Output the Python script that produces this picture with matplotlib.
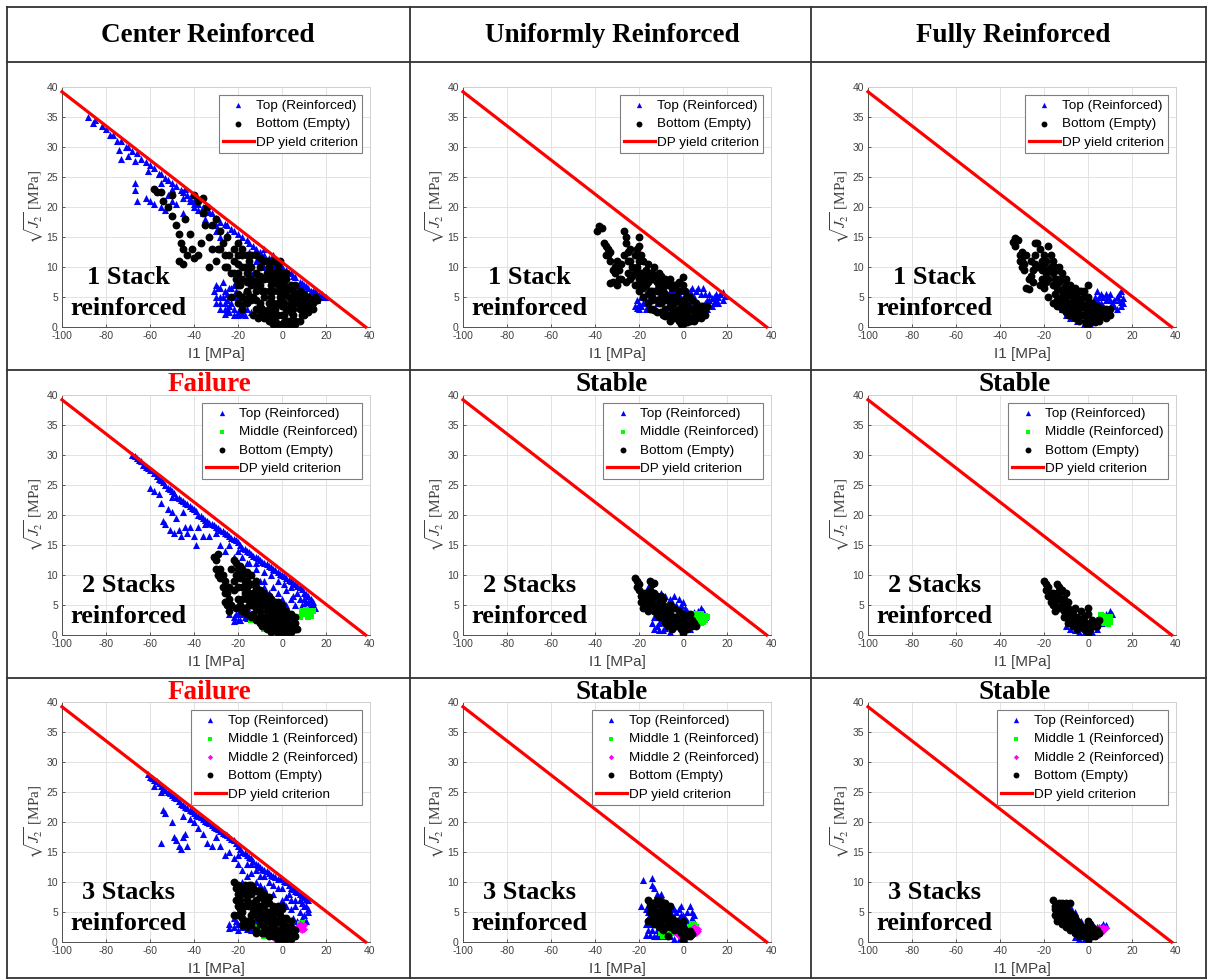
import matplotlib
matplotlib.use("Agg")
import matplotlib.pyplot as plt
from matplotlib.lines import Line2D

plt.rcParams['mathtext.fontset'] = 'stix'
plt.rcParams['axes.unicode_minus'] = False

W, H = 1208, 980

# ---------------- DATA ----------------
columns = ["Center Reinforced", "Uniformly Reinforced", "Fully Reinforced"]
row_notes = ["1 Stack\nreinforced", "2 Stacks\nreinforced", "3 Stacks\nreinforced"]
row_status = [[None, None, None],
              ["Failure", "Stable", "Stable"],
              ["Failure", "Stable", "Stable"]]

dp_x = [-100, 38]
dp_y = [39.2, 0]

x_ticks = [-100, -80, -60, -40, -20, 0, 20, 40]
y_ticks = [0, 5, 10, 15, 20, 25, 30, 35, 40]

# Row 1, Center
top_c1 = [(-88,35),(-85,34.5),(-80,33),(-77,32),(-73,31),(-70,30),(-66,29),(-62,27.5),(-58,26.5),(-55,25.5),
          (-52,24.5),(-48,23.5),(-45,22.5),(-42,21.5),(-38,20.5),(-35,19.5),(-32,19),(-28,17.5),(-25,17),(-22,16),
          (-18,15),(-15,14),(-12,13),(-8,12),(-5,11),(-2,10.5),(2,9.5),(5,8.5),(8,7.5),(12,6.5),(15,6),(18,5.5),(20,5),
          (-74,29.5),(-73,28),(-70,28.5),(-68,29.3),(-67,27.7),(-67,24),(-67,22.8),(-66,21),(-62,21.5),(-61,26),(-60,21),
          (-58,20.5),(-56,25.5),(-55,20),(-53,19.5),(-52,22),(-50,21),(-48,20.5),(-45,19),(-44,23),(-42,21),(-40,20),
          (-38,19.5),(-35,18),(-32,17),(-30,16),(-28,15),
          (-30,7),(-28,6.5),(-26,6),(-25,3),(-24,2.5),(-22,7),(-22,3),(-20,2.5),(-20,5),(-18,8),(-16,3),(-15,6),(-14,9),
          (-12,11),(-10,7),(-10,4),(-8,13),(-6,9),(-4,12),(-2,8),(0,10),(2,7),(4,9),(6,6),(8,7),(10,5),(12,4),(14,5),
          (16,5.5),(18,5),(-25,4.5),(-28,3),(-24,6.5),(-26,2.2),(-23,4),(-18,2.2),(-16,5),(-14,2.5),(10,7),(13,6),(16,4.5),
          (-86,34),(-82,33.5),(-78,32),(-75,31),(-71,30),(-64,28),(-60,27),(-56,25.5),(-53,24.8),(-50,24),(-46,22.8),
          (-43,22),(-40,21),(-36,20),(-33,19.2),(-30,18.2),(-26,17.2),(-23,16.3),(-20,15.5),(-16,14.5),(-13,13.5),
          (-10,12.5),(-6,11.5),(-3,10.7),(0,10),(3,9),(6,8.3),(9,7.3),(11,6.8),(14,6),(17,5.3),(-55,24),(-50,23),
          (-45,21.5),(-40,20.5),(-36,19),(-30,17),(-25,15.5),(-20,14),(-15,12.5),(-10,11),(-5,9.5),(0,8),(5,7),(10,6),
          (15,4.5),(-20,12),(-15,10),(-12,8),(-8,10),(-4,10),(4,5),(8,4),(12,3),(-30,4),(-28,5),(-26,4),(-22,5),
          (-27,7.5),(-19,4),
          (-31,6),(-29,6.5),(-27,5),(-25,5.5),(-24,3.5),(-22,2),(-20,2),(-18,2.8),(-17,6),(-21,6),(-23,6.5),(-26,3),
          (-28,4),(-30,5),(-25,2.5),(-19,3),(-17,2)]
bot_c1 = [(-58,23),(-57,22.5),(-55,22.5),(-52,20),(-50,18.5),(-48,17),(-47,15.5),(-46,14),(-45,13),(-47,11),(-45,10.5),
          (-42,15.5),(-41,13),(-40,11.5),(-38,12),(-40,22),(-38,21),(-36,19),(-35,17),(-33,15),(-32,13),(-30,11),
          (-30,18),(-28,16),(-27,14),(-26,12),(-25,10),(-25,15),(-22,13),(-22,11),(-20,9),(-20,14),(-18,12),(-17,10),
          (-15,8),(-15,11),(-12,9),(-12,6),(-10,7),(-10,4),(-8,8),(-8,5),(-6,6),(-6,3),(-5,2),(-4,4),(-3,1),(-2,2),
          (0,0.5),(0,2),(0,5),(0,8),(2,3),(3,1),(4,4),(5,2),(6,5),(8,3),(10,4),(12,5),(-2,6),(-4,9),(-1,11),(-5,7),
          (-15,5),(-20,4),(-18,3),(-10,2),(-8,1.5),(2,6),(-2,10),(-14,10),(-10,10),(-7,11),(-3,8),(1,4),(-12,3),(-6,1),
          (-28,13),(-26,10),(-24,12),(-23,9),(-21,8),(-19,7),(-18,10),(-16,9),(-14,7),(-13,5),(-11,8),(-9,6),(-7,9),
          (-6,4),(-4,6),(-3,3),(-1,5),(1,2),(1,7),(3,5),(5,3),(7,4),(9,2),(11,3),(13,4),(-9,3),(-7,2),(-5,5),(-2,4),
          (0,3.5),(2,1),(4,2.5),(-16,6),(-20,7),(-23,5),(-17,4),(-13,2),(-11,1.5),(-3,0.5),(6,1),(-32,17),(-34,20),
          (-36,21.5),(-44,18),(-50,22),(-54,21),(-43,12),(-37,14),(-33,10),(-29,13),
          (-20,12),(-18,13),(-16,12),(-14,12),(-12,12),(-10,11.5),(-8,11),(-6,10),(-4,11),(-2,9),(0,9),(2,9),(4,7),
          (6,7),(8,6),(10,5.5),(12,4),(14,4),(16,4.5),(14,3),(12,2.5),(10,2),(8,1),(6,0.5),(4,0.5),(2,0.3),(-1,0.2),
          (-2,0.5),(-4,0.5),(-6,2.5),(-8,2.5),(-10,3.5),(-12,4.5),(-14,4.5),(-16,4),(-18,5),(-20,5.5),(-22,9),(-18,8),
          (-14,8),(-10,8.5),(-6,8),(-2,7),(2,8),(5,6),(8,5),(11,4.5),(15,5),(-8,6),(-4,7.5),(0,6.5),(3,6.5),(7,5.5),
          (-12,7),(-16,7.5),(-20,10.5),(-1,8),(1,5.5),(4,3.5),(9,3.5),(12,3.5),(-5,1),(-3,2),(1,0.8)]

# Row 1, Uniform
top_u1 = [(-22,3.5),(-21,4.5),(-20,3),(-19,5),(-18,4),(-16,3.5),(-15,5),(-14,6),(-12,7),(-10,6.5),(-8,6),(-6,5),(-4,6),
          (-2,5.5),(0,6),(2,5),(4,6.5),(5,5),(6,6),(8,5.5),(9,6.5),(10,4),(12,4.5),(13,3.5),(14,4),(15,4.5),(16,5),
          (17,5.5),(18,5.8),(19,5.2),(11,3),(7,3),(3,4),(-3,3),(-8,3),(-12,4),(-17,3),(-20,3.8),
          (-21,3.2),(-19,3.5),(-17,4.5),(-13,5),(-10,5),(-6,6),(-2,4.5),(1,5.5),(3,6),(7,6.5),(10,5.5),(12,5.5),
          (14,5),(16,4),(18,4.5),(11,4.5),(13,4.8),(15,5.5)]
bot_u1 = [(-39,16),(-38,16.8),(-37,16.5),(-35,13.5),(-34,13),(-34,12),(-33,11),(-32,9.5),(-31,9),(-32,7.5),(-30,7),
          (-30,11),(-28,10.5),(-27,16),(-26,15),(-26,14),(-25,12.5),(-24,13),(-25,9),(-23,10),(-22,12),(-20,15),
          (-20,13.5),(-19,12),(-18,11),(-17,9.5),(-16,10.5),(-15,9),(-14,8),(-13,10),(-12,8.5),(-11,9),(-10,7.5),
          (-9,6),(-8,8),(-7,7),(-6,5),(-5,6.5),(-4,4),(-3,5),(-2,3),(-1,2),(0,0.5),(0,1.5),(0,3),(0,8.3),(1,4),(2,2),
          (3,3),(4,1.5),(5,2.5),(6,3),(7,2),(8,1.5),(9,2.5),(10,3),(11,3.5),(-28,8),(-26,7.5),(-22,7),(-20,6),(-18,5),
          (-16,4),(-14,3),(-12,2.5),(-10,4),(-8,3),(-6,2),(-4,1.5),(-2,1),(2,0.8),(-15,6),(-12,6),(-10,5),(-3,7),
          (-2,6),(1,6),(-7,4.5),(-5,3),(3,5),(-24,11),(-21,10),(-19,9),(-17,7),(-29,9.5),(-33,7.3),(-15,3),(-13,2.8),
          (-36,14),(-35,12),(-33,12.5),(-31,10),(-29,8),(-27,12),(-24,8),(-21,13),(-20,11),(-18,9),(-16,7.5),(-14,6),
          (-13,8),(-11,7),(-9,8),(-8,4.5),(-6,7),(-5,4),(-3,2),(-1,4),(1,2.5),(4,3),(6,1.5),(8,2.5),(-11,4),(-9,2),
          (-14,4.5),(-19,7),(-23,8.5),(-25,11),
          (-20,9),(-18,8),(-16,8.5),(-14,9),(-12,7.5),(-10,8.5),(-8,7),(-6,8),(-4,7),(-2,7.5),(0,7),(2,5),(4,4.5),
          (6,4),(8,3.5),(10,2),(-4,5),(-2,4.5),(0,4.5),(2,3.5),(-6,3.5),(-8,5.5),(-10,6),(-12,4.5),(-14,5),(-16,5.5),
          (-18,6.5),(-20,8),(-22,9),(-10,2.5),(-8,1.8),(-6,1),(-4,2.5),(-1,0.5),(1,1.2),(3,1),(5,1),(7,3),(9,3.5)]

# Row 1, Fully
top_f1 = [(-12,3),(-10,2),(-8,1.5),(-5,1),(-2,0.5),(1,0.5),(3,5),(4,6),(5,5),(6,5.5),(7,5),(8,4.5),(9,5),(10,4.5),
          (11,4),(12,4.5),(13,5),(14,5.5),(15,6),(16,4),(15,3.5),(13,3),(11,3.5),(9,3),(7,3.5),(2,4),(-1,2),(-6,2.5),
          (-9,3.5),(-11,4),(-13,5),(-15,4),(4,4.5),(6,4),(8,5.5),(10,5.5),(12,3.5),(14,4.5),(15,4.2),(16,4.8),(5,3.5),(3,3)]
bot_f1 = [(-34,14.2),(-33,14.8),(-32,14.5),(-31,12),(-30,11),(-30,10),(-29,9.5),(-28,6.5),(-27,6.3),(-26,8.5),
          (-25,9.5),(-24,14),(-23,14),(-22,13),(-21,11),(-20,10.5),(-19,9),(-18,13.5),(-17,12),(-17,10),(-16,9),
          (-15,8),(-14,9.5),(-13,7.5),(-12,8),(-11,6.5),(-10,7),(-9,5.5),(-8,6),(-7,5),(-6,4),(-5,5),(-4,3),(-3,4),
          (-2,2),(-1,3),(0,0.5),(0,1.5),(0,7),(0,5),(1,2),(2,3),(3,1.5),(4,2.5),(5,2),(6,3),(7,2),(8,1.5),(9,2.5),
          (10,3),(-20,6.5),(-18,5),(-16,4),(-14,3.5),(-12,3),(-10,2.5),(-8,2),(-6,1.5),(-4,1),(-25,7.5),(-22,7),
          (-15,5.5),(-12,5),(-9,3.5),(-7,3),(-3,6),(-2,5),(1,4),(-21,8),(-19,7.5),(-13,10),
          (-33,13.5),(-31,11),(-29,10.5),(-27,8),(-24,12),(-23,10),(-21,9.5),(-19,11),(-18,8),(-16,7),(-14,6.5),
          (-12,6),(-10,5),(-8,4),(-6,5.5),(-5,2.5),(-3,2),(-1,1),(1,3),(3,2.5),(5,1),(7,3),(8,2.5),(-11,4),(-9,2),
          (-15,10),(-16,11),(-20,12),
          (-18,9.5),(-16,10),(-14,8),(-12,9),(-10,8),(-8,7),(-6,6.5),(-4,6),(-2,6),(-4,4.5),(-2,3.5),(0,4),(2,4),
          (4,3.5),(6,2),(8,3),(10,2),(-6,2.5),(-8,3),(-10,4),(-12,4),(-14,4.5),(-1,0.5),(1,0.8),(3,0.8),(-20,8),
          (-22,10),(-24,10.5),(-26,11),(-28,12),(-30,12.5)]

# Row 2, Center
top_c2 = [(-68,30),(-66,29.5),(-64,29),(-62,28),(-60,27.5),(-58,27),(-56,26),(-54,25.5),(-52,24.5),(-50,24),(-48,23),
          (-46,22.5),(-44,22),(-42,21.5),(-40,21),(-38,20),(-36,19.5),(-34,19),(-32,18.5),(-30,18),(-28,17.5),(-26,17),
          (-24,16.5),(-22,16),(-20,15.5),(-18,14.5),(-16,14),(-14,13.5),(-12,13),(-10,12.5),(-8,12),(-6,11.5),(-4,11),
          (-2,10.5),(0,10),(2,9.5),(4,9),(6,8.5),(8,8),(10,7),(12,6.5),(14,5.5),(15,4.5),
          (-60,24.5),(-58,24),(-56,23.5),(-55,22),(-54,19),(-53,18.5),(-52,21),(-51,17.5),(-50,23),(-50,20.5),(-49,17),
          (-48,19.5),(-47,17.5),(-46,16.5),(-45,20.5),(-44,18),(-43,17),(-42,18),(-40,16.5),(-39,15),(-38,18),(-36,16.5),
          (-35,18.5),(-33,16.5),(-30,17),(-28,15),(-26,14),(-24,15),(-22,13),(-20,12),(-18,11),(-16,12),(-14,10),
          (-12,11),(-10,9),(-8,8),(-6,7),(-4,8),(-2,7),(0,6),(2,7.5),(4,6),(6,5),(8,6),(10,5),(12,4.5),(14,4.8),
          (-22,3),(-20,2.5),(-18,3.5),(-16,2.8),(-14,3),(-22,2.3),(-20,3.5),(-12,4),(-10,5),(-6,3),(-24,3.5),
          (-67,29.8),(-65,29.2),(-63,28.3),(-61,27.8),(-57,26.5),(-55,25.8),(-53,25),(-51,24.3),(-49,23.6),(-47,22.8),
          (-45,22.3),(-43,21.8),(-41,21.2),(-39,20.6),(-37,19.8),(-35,19.2),(-33,18.7),(-31,18.3),(-29,17.8),(-27,17.3),
          (-25,16.8),(-23,16.2),(-21,15.8),(-19,15),(-17,14.3),(-15,13.8),(-13,13.2),(-11,12.8),(-9,12.2),(-7,11.8),
          (-5,11.3),(-3,10.8),(-1,10.2),(1,9.8),(3,9.2),(5,8.7),(7,8.2),(9,7.6),(11,6.8),(13,6),(-20,14),(-18,13),
          (-15,12),(-12,12),(-8,10.5),(-5,10),(-2,9),(1,8.5),(4,8),(7,7),(10,6),(12,5.5),(-10,7),(-8,9),(-4,6),(2,5),
          (5,6.5),(9,5),(11,5.5),(13,5),(-15,4),(-12,4),(-21,3.5),(-19,2.5),(-17,3)]
mid_c2 = [(-15,3.5),(-14,2.5),(-12,3),(-10,2),(-8,1),(-5,1.5),(0,0.5),(3,1),(6,2),(8,3),(10,3.5),(12,3),(13,4),(14,4),
          (11,4.2),(9,4),(12,3.8),(13,3.2)]
bot_c2 = [(-31,13),(-30,12.5),(-29,13.5),(-28,11),(-28,9.5),(-27,8),(-26,7),(-26,5.5),(-25,5),(-24,4),(-22,12.5),
          (-21,12),(-20,10),(-19,9.5),(-19,11.5),(-18,8),(-17,7),(-16,6),(-16,9),(-15,10),(-14,8.5),(-13,7),(-12,6),
          (-11,5),(-10,4),(-9,6),(-8,5),(-7,4),(-6,5),(-5,3),(-4,2),(-3,3),(-2,1),(-1,2),(0,0.3),(0,3),(0,4.5),(1,1),
          (2,2),(3,3),(4,1.5),(5,2.5),(6,2),(7,1),(-14,3),(-12,2.5),(-10,3),(-8,2),(-6,1.5),(-4,1),(-2,3.5),(-5,6),
          (-18,4),(-16,3.5),(-20,6),(-22,7.5),(-24,6),(-12,9),(-8,7),(-3,5.5),(-1,4),
          (-30,11),(-29,10),(-27,10),(-26,9),(-25,7),(-23,11),(-21,10),(-20,8),(-18,10),(-17,9),(-16,8),(-15,7),
          (-14,6),(-13,5),(-12,8),(-11,7),(-10,6),(-9,5),(-8,3),(-7,6),(-6,3.5),(-5,4.5),(-4,3),(-3,2),(-2,4.5),
          (-1,3),(1,2.5),(2,3.5),(3,1.5),(4,2.5),(5,1),(6,3),(-18,6),(-14,5),(-12,4.5),(-10,2),(-9,3),(-7,2.5),
          (-5,2),(-3,1),(0,1.5),(2,1),
          (-24,8),(-22,9),(-20,11),(-18,11),(-16,10.5),(-14,10),(-12,7.5),(-10,7.5),(-8,6),(-6,6.5),(-4,5),(-2,5.5),
          (0,5),(2,4),(4,3.5),(-23,5),(-21,4.5),(-19,5),(-17,4.5),(-15,5),(-13,3.5),(-11,2.5),(-9,1.5),(-7,1),(-5,0.5),
          (-2,0.3),(2,0.3),(4,0.5),(6,1),(-3,4),(-1,1)]

# Row 2, Uniform
top_u2 = [(-14,2),(-13,1),(-12,1.5),(-11,0.8),(-10,2.5),(-8,1.2),(-6,0.5),(-12,3),(-10,7),(-8,6.5),(-6,6),(-4,6.5),
          (-2,6),(0,5.5),(2,4),(4,3.5),(6,3),(8,4.5),(9,4),(10,3),(-14,7),(-16,8),(-13,5.5),(-9,4.5),(-3,5),(1,4.5),(3,1),
          (-15,5),(-13,3),(-11,2),(-9,0.8),(-7,5),(-5,5.5),(-1,5),(2,3),(5,3.8),(7,4),(9,3.5),(8,2.6)]
mid_u2 = [(-8,2.5),(-7,2),(-6,2.8),(-4,2),(3,2.5),(5,3),(6,2.8),(7,3),(8,3.5),(9,3),(10,3.2),(11,3),(10,2.5),(8,2),
          (9,2.2),(4,3.3),(6,3.5)]
bot_u2 = [(-22,9.5),(-21,9),(-21,8),(-20,7.5),(-19,6.5),(-19,5.5),(-18,4.5),(-17,5),(-16,6),(-15,9),(-14,8.5),
          (-13,8.7),(-13,7),(-12,6.5),(-12,5),(-11,6),(-10,5),(-10,4),(-9,3.5),(-8,4.5),(-8,3),(-7,2.5),(-6,3.5),(-5,2),
          (-4,3),(-3,1.5),(-2,2.5),(-1,1),(0,0.3),(0,2),(0,3.5),(1,1),(2,2),(3,1.5),(4,2.5),(5,2),(6,1.5),(-15,6),
          (-14,5),(-16,4),(-17,7),(-9,6),(-6,5),(-4,4.5),(-2,4),(1,3),(3,3.5),(-11,3),(-7,1.5),(-5,1),
          (-20,8.5),(-18,7),(-17,6),(-16,5),(-15,7.5),(-14,7),(-13,4),(-12,3.5),(-11,4.5),(-10,3),(-9,5),(-8,2),(-7,4),
          (-6,2),(-5,3),(-4,2),(-3,3),(-2,1.5),(-1,2.5),(1,2),(2,1),(3,2.5),(4,1.5),(-14,6),(-10,6.5),(-12,4)]

# Row 2, Fully
top_f2 = [(-10,1.5),(-8,1),(-6,0.8),(-4,0.5),(-2,0.3),(6,3),(8,3.5),(10,4),(11,3.5),(9,2.5),(7,2),(2,0.5),(4,1)]
mid_f2 = [(5,2.5),(6,2),(7,2.5),(8,2),(9,1.8),(10,2.2),(8,3),(9,3),(10,3),(7,3.2),(6,3.3),(-6,1.5),(-4,1.2)]
bot_f2 = [(-20,9),(-19,8.5),(-19,7.5),(-18,6.5),(-17,5.5),(-16,5),(-15,6),(-14,8.5),(-13,8),(-12,7.5),(-12,6),(-11,5),
          (-10,5.5),(-10,4),(-9,3.5),(-8,4),(-8,2.5),(-7,3),(-6,2),(-5,3),(-4,1.5),(-3,2.5),(-2,1),(-1,2),(0,0.3),
          (0,1.5),(0,3.5),(0,4.5),(1,1),(2,2),(3,1.5),(4,2),(5,2.5),(-16,7),(-14,6),(-13,4.5),(-15,4),(-11,3),(-9,2),
          (-7,1.5),(-5,1),(-3,4),(-2,3),(-6,4.5),(-10,7),
          (-18,8),(-17,7),(-16,6),(-15,5),(-14,7),(-13,6),(-12,5),(-11,4),(-10,3),(-9,4.5),(-8,3.5),(-7,2),(-6,3),
          (-5,2),(-4,2.5),(-3,1.5),(-2,2),(-1,1),(1,1.5),(2,2.5),(3,2),(4,1.5),(-13,7),(-11,6),(-9,5.5),(-7,4)]

# Row 3, Center
top_c3 = [(-61,28),(-60,27.5),(-58,27),(-56,26.5),(-54,25.5),(-52,25),(-50,24.5),(-48,24),(-46,23),(-44,22.5),(-42,22),
          (-40,21.5),(-38,21),(-36,20.5),(-34,20),(-32,19.5),(-30,19),(-28,18.5),(-26,18),(-24,17.5),(-22,17),(-20,16),
          (-18,15),(-16,14.5),(-14,14),(-12,13),(-10,12.5),(-8,12),(-6,11.5),(-4,11),(-2,10.5),(0,10.5),(2,10),(4,9),
          (6,8.5),(8,8),(10,7.5),(12,7),
          (-58,26),(-55,25),(-54,22),(-53,21.5),(-55,16.5),(-50,20),(-49,17.5),(-48,17),(-47,16),(-46,15.5),(-45,17.5),
          (-45,21),(-44,18),(-43,16),(-42,20.5),(-40,20),(-38,19),(-36,18),(-34,16.5),(-32,16),(-30,17.5),(-28,16),
          (-26,14.5),(-24,15),(-22,14),(-20,13),(-18,12),(-16,11),(-14,13),(-12,10),(-10,11),(-8,9),(-6,10),(-4,8),
          (-2,9),(0,7),(2,6),(4,5.5),(6,7),(8,5),(10,6),(12,5),(-24,3),(-22,2.5),(-22,4),(-20,3),(-18,2.5),(-16,3),
          (-14,2),(-12,3.5),(-10,4.5),(-24,2.3),(5,4),(7,3.5),(9,4),
          (-59,27.3),(-57,26.8),(-55,26),(-53,25.3),(-51,24.8),(-49,24.2),(-47,23.5),(-45,22.8),(-43,22.3),(-41,21.8),
          (-39,21.2),(-37,20.8),(-35,20.2),(-33,19.8),(-31,19.2),(-29,18.8),(-27,18.2),(-25,17.8),(-23,17.2),(-21,16.5),
          (-19,15.5),(-17,14.8),(-15,14.2),(-13,13.5),(-11,12.8),(-9,12.2),(-7,11.8),(-5,11.2),(-3,10.8),(-1,10.5),
          (1,10.2),(3,9.5),(5,8.8),(7,8.3),(9,7.8),(11,7.2),(-20,14.5),(-16,13),(-12,12),(-8,11),(-4,9.5),(0,9),(3,8),
          (6,6),(9,6.5),(11,6),(12,5.5),(-18,10),(-14,11.5),(-10,9.5),(2,7.5),(4,7),(8,7),(10,4.5),(11,3.5),(-20,2),
          (-18,3.5),(-16,2.2),(-14,3),(-21,3.5)]
mid1_c3 = [(-12,2.5),(-11,1.5),(-10,2),(-8,1),(-5,1),(0,0.5),(4,1),(6,2),(8,3),(9,3.2)]
mid2_c3 = [(7,2.5),(8,3),(9,2.5),(10,2.8),(9,2),(8,2.2),(10,2.2),(-6,1),(-3,0.5)]
bot_c3 = [(-22,10),(-21,9),(-20,8),(-20,6),(-19,5.5),(-18,9),(-17,8),(-16,7),(-15,9.5),(-14,8),(-13,9),(-12,7),(-11,6),
          (-10,5),(-10,7.5),(-9,6),(-8,4.5),(-7,5),(-6,3.5),(-5,4),(-4,2.5),(-3,3),(-2,1.5),(-1,2),(0,0.3),(0,1.5),
          (0,3),(0,4),(1,1),(2,2),(3,1.5),(4,2.5),(5,1.5),(-22,4.5),(-18,4),(-16,3.5),(-14,3.5),(-12,4.5),(-10,3),
          (-8,2.5),(-6,2),(-4,1),(-15,6),(-11,8.5),(-7,7),(-3,5),(-1,4.5),
          (-21,7),(-19,7),(-18,6),(-17,6),(-16,9),(-14,6),(-13,6.5),(-12,5.5),(-11,4),(-10,6),(-9,4),(-8,7),(-8,6),
          (-7,3.5),(-6,5),(-5,2.5),(-4,4),(-3,2),(-2,3.5),(-1,1),(1,3),(2,1),(3,2.5),(4,1),(-20,9.5),(-17,9.5),(-13,5),
          (-9,8),(-6,6.5),(-2,5),(0,5.5),(-12,1.5),(-9,1.5),(-15,3.5),
          (-20,4.5),(-18,2.8),(-16,2.5),(-14,2.8),(-12,2),(-8,1.5),(-6,1),(-2,0.3),(2,0.5),(4,0.5),(6,1),(6,2),(-19,8),
          (-16,8),(-14,9.5),(-12,8.5),(-10,8.5),(-8,8),(-6,7.5),(-4,6),(-2,6),(0,6),(2,4),(4,3.5),(-18,5),(-14,4.5),
          (-10,4),(-6,4.5),(-4,5.5)]

# Row 3, Uniform
top_u3 = [(-18,10.3),(-14,10.7),(-14,9.5),(-13,9),(-12,8),(-11,7.5),(-10,8),(-9,7),(-8,6.5),(-7,6),(-6,5.5),(-5,6),
          (-4,5.5),(-3,5),(-2,5.5),(-1,6),(0,4.5),(1,4),(2,3.5),(3,6),(4,5),(5,4.5),(-19,6),(-17,5.5),(-16,4),(-15,3),
          (-14,2),(-13,1),(-12,2),(-11,1),(-10,2.5),(-9,1.5),(-8,1),(-16,2),(-15,1.2),(-6,1),(-4,0.5),(-2,0.3),(1,0.3),
          (-16,5),(-15,4.5),(-13,4),(-12,4.5),(-11,3),(-10,5),(-9,3),(-7,4.5),(-5,4.5),(-4,4),(-2,4),(-1,4.5),(1,3),
          (2,5),(4,4),(-17,3),(-14,3),(-12,1),(-17,1.2)]
mid1_u3 = [(-10,1.5),(-9,1),(-8,2),(-7,1.5),(-6,2),(-4,1.5),(2,2),(3,2.5),(4,3),(5,2.8),(6,2.5),(4,1.5),(5,2)]
mid2_u3 = [(3,2),(4,2.2),(5,2.5),(6,2),(7,2.2),(6,1.5),(7,1.8),(-3,1.5),(-2,1)]
bot_u3 = [(-16,7),(-15,6.5),(-15,5),(-14,4),(-13,6),(-12,6.5),(-11,5),(-10,6),(-9,4),(-8,5),(-7,3.5),(-6,4),(-5,3),
          (-4,3.5),(-3,2.5),(-2,3),(-1,1.5),(0,0.3),(0,1),(0,2.5),(0,3.5),(1,1),(2,1.5),(3,1),(4,1.3),(-12,3),(-10,3.5),
          (-8,2.5),(-6,2.5),(-4,2),(-2,2),(-16,3.5),(-11,7),(-8,6.5),(-6,6),(-9,2),(-7,1),
          (-15,6),(-14,5.5),(-13,5),(-12,5),(-11,4),(-10,4.5),(-9,5.5),(-8,4),(-7,5),(-6,3),(-5,4),(-4,2.5),(-3,3.5),
          (-2,2.5),(-1,2.5),(1,2),(2,1),(3,1.8),(-13,3),(-11,2.5),(-14,6.5),(-12,7)]

# Row 3, Fully
top_f3 = [(-10,6.5),(-8,6),(-6,5),(-5,4),(-3,3.5),(-1,3),(0,2),(2,3),(4,2.5),(6,2.5),(7,3),(8,2.8),(-6,0.8),(-4,0.5),(-2,0.3)]
mid1_f3 = [(-6,1.5),(-4,1.2),(3,2),(4,1.5),(5,2),(6,2.2),(-2,1)]
mid2_f3 = [(4,2),(5,2.5),(6,2),(7,2.5),(8,2.3),(7,1.8),(6,1.5),(5,1.2)]
bot_f3 = [(-16,7),(-15,6),(-15,4.5),(-14,4),(-13,5.5),(-12,6.5),(-11,6),(-10,5.5),(-10,4),(-9,5),(-8,6.5),(-8,3.5),
          (-7,4.5),(-6,3),(-5,3.5),(-4,2),(-3,2.5),(-2,1.5),(-1,2),(0,0.3),(0,1),(0,2.5),(0,3.5),(1,1),(2,1.5),(3,1),
          (4,2),(5,1.5),(-14,3.5),(-12,3),(-10,2.5),(-8,2),(-6,1.5),(-4,1),(-13,4),(-9,3),(-7,2.5),(-5,2),(-3,1),(1,3),(2,2.5),
          (-15,5.5),(-14,5),(-13,6.5),(-12,5),(-11,4.5),(-10,6.5),(-9,4),(-8,5),(-7,3.5),(-6,4),(-5,2.5),(-4,3),(-3,2),
          (-2,2.5),(-1,1),(1,2),(2,1),(3,2),(-12,4),(-11,3),(-10,3.5)]

series_labels = {
    1: ["Top (Reinforced)", "Bottom (Empty)"],
    2: ["Top (Reinforced)", "Middle (Reinforced)", "Bottom (Empty)"],
    3: ["Top (Reinforced)", "Middle 1 (Reinforced)", "Middle 2 (Reinforced)", "Bottom (Empty)"],
}
panel_data = [
    [[top_c1, bot_c1], [top_u1, bot_u1], [top_f1, bot_f1]],
    [[top_c2, mid_c2, bot_c2], [top_u2, mid_u2, bot_u2], [top_f2, mid_f2, bot_f2]],
    [[top_c3, mid1_c3, mid2_c3, bot_c3], [top_u3, mid1_u3, mid2_u3, bot_u3], [top_f3, mid1_f3, mid2_f3, bot_f3]],
]

# ---------------- STYLES ----------------
style_top = dict(marker='^', color='#0000ff', s=26)
style_mid = dict(marker='s', color='#00ff00', s=13)
style_mid2 = dict(marker='D', color='#ff00ff', s=13)
style_bot = dict(marker='o', color='#000000', s=32)
styles = {1: [style_top, style_bot],
          2: [style_top, style_mid, style_bot],
          3: [style_top, style_mid, style_mid2, style_bot]}

fig = plt.figure(figsize=(W / 100, H / 100), dpi=100)

def fx(x):
    return x / W

def fy(y):
    return 1 - y / H

# table grid
line_kw = dict(color='#333333', lw=1.3, transform=fig.transFigure)
left_e, right_e, top_e, bot_e = 7, 1206, 7, 978
for yy in [top_e, 62, 370, 678, bot_e]:
    fig.add_artist(Line2D([fx(left_e), fx(right_e)], [fy(yy), fy(yy)], **line_kw))
for xx in [left_e, 410, 811, right_e]:
    fig.add_artist(Line2D([fx(xx), fx(xx)], [fy(top_e), fy(bot_e)], **line_kw))

header_x = [208, 612, 1013]
for c, name in enumerate(columns):
    fig.text(fx(header_x[c]), fy(36), name, ha='center', va='center', fontsize=19.5,
             fontweight='bold', family='Liberation Serif')

ax_left = [62, 463, 868]
ax_w = 308
ax_top = [87, 395, 702]
ax_h = 240
status_x = [209, 612, 1015]
status_y = [None, 384, 692]

for r in range(3):
    n = r + 1
    for c in range(3):
        ax = fig.add_axes([fx(ax_left[c]), fy(ax_top[r] + ax_h), ax_w / W, ax_h / H])
        for data, st, lab in zip(panel_data[r][c], styles[n], series_labels[n]):
            xs = [p[0] for p in data]
            ys = [p[1] for p in data]
            ax.scatter(xs, ys, marker=st['marker'], color=st['color'], s=st['s'],
                       linewidths=0, label=lab, zorder=3)
        ax.plot(dp_x, dp_y, color='#ff0000', lw=2.3, label='DP yield criterion', zorder=4, clip_on=False)
        ax.set_xlim(-100, 40)
        ax.set_ylim(0, 40)
        ax.set_xticks(x_ticks)
        ax.set_yticks(y_ticks)
        ax.grid(True, color='#e3e3e3', lw=0.7)
        ax.set_axisbelow(True)
        ax.tick_params(labelsize=7.5, colors='#404040', direction='in', length=2.5, width=0.6,
                       top=False, right=False, pad=3)
        for lbl in ax.get_xticklabels() + ax.get_yticklabels():
            lbl.set_family('Liberation Sans')
        for sp in ['left', 'bottom']:
            ax.spines[sp].set_color('#505050')
            ax.spines[sp].set_linewidth(0.7)
        for sp in ['top', 'right']:
            ax.spines[sp].set_color('#d0d0d0')
            ax.spines[sp].set_linewidth(0.7)
        ax.set_xlabel('I1 [MPa]', fontsize=11, color='#404040', family='Liberation Sans', labelpad=4)
        ax.set_ylabel(r'$\sqrt{J_2}$ [MPa]', fontsize=11, color='#404040', family='Liberation Serif', labelpad=0)
        leg = ax.legend(loc='upper right', frameon=True, fancybox=False,
                        edgecolor='#7f7f7f', framealpha=1, borderpad=0.3, labelspacing=0.45,
                        handlelength=2.3, handletextpad=0.15, borderaxespad=0.6, markerscale=0.75,
                        prop={'family': 'Liberation Sans', 'size': 9.7})
        leg.get_frame().set_linewidth(0.8)
        ax.text(0.215, 0.14, row_notes[r], transform=ax.transAxes, ha='center', va='center',
                fontsize=19, fontweight='bold', family='Liberation Serif', linespacing=1.45, zorder=5)
        st_txt = row_status[r][c]
        if st_txt:
            fig.text(fx(status_x[c]), fy(status_y[r]), st_txt, ha='center', va='center', fontsize=19.5,
                     fontweight='bold', family='Liberation Serif',
                     color='#ff0000' if st_txt == 'Failure' else '#000000')

fig.savefig('out.png', dpi=100, facecolor='white')
